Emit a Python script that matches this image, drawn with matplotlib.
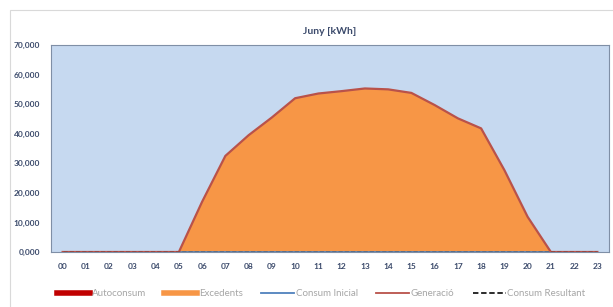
import numpy as np
import matplotlib.pyplot as plt
from matplotlib.patches import Rectangle

plt.rcParams['font.family'] = ['Lato', 'DejaVu Sans']

# Data (kWh) per hour
hours = ['00', '01', '02', '03', '04', '05', '06', '07', '08', '09', '10', '11',
         '12', '13', '14', '15', '16', '17', '18', '19', '20', '21', '22', '23']
generacio = [0, 0, 0, 0, 0, 0, 17.0, 32.5, 39.5, 45.5, 52.0, 53.6,
             54.4, 55.3, 55.0, 53.8, 49.7, 45.2, 41.8, 27.7, 11.9, 0, 0, 0]
autoconsum = [0] * 24
consum_inicial = [0] * 24
consum_resultant = [0] * 24
excedents = [g - a for g, a in zip(generacio, autoconsum)]

BG = '#C6D9F0'
ORANGE = '#F79646'
GEN_RED = '#B9524A'
AUTO_RED = '#C00000'
BLUE = '#4F81BD'
TXT = '#3B4A6B'

fig = plt.figure(figsize=(6.13, 3.07), dpi=100)
fig.patches.append(Rectangle((10 / 613, -0.01), 1.0, 1 - 10 / 307 + 0.01,
                             transform=fig.transFigure, fill=False,
                             edgecolor='#D9D9D9', linewidth=0.8))

ax = fig.add_axes([51 / 613, 55 / 307, 558 / 613, 207 / 307])
ax.set_facecolor(BG)
x = np.arange(len(hours))

ax.stackplot(x, autoconsum, excedents, colors=[AUTO_RED, ORANGE], zorder=2)
ax.plot(x, consum_inicial, color=BLUE, lw=1.2, zorder=3)
ax.plot(x, generacio, color=GEN_RED, lw=1.6, zorder=4)
ax.plot(x, consum_resultant, color='#1a1a1a', lw=1.0, ls=(0, (3, 1.5)), zorder=5)

ax.set_xlim(-0.5, 23.5)
ax.set_ylim(0, 70)
ax.set_yticks(np.arange(0, 71, 10))
ax.set_yticklabels([f"{v:.3f}".replace('.', ',') for v in range(0, 71, 10)])
ax.set_xticks(x)
ax.set_xticklabels(hours)
ax.tick_params(length=0, labelsize=6, labelcolor=TXT, pad=8)
for lbl in ax.get_xticklabels() + ax.get_yticklabels():
    lbl.set_fontweight('bold')
for s in ax.spines.values():
    s.set_color('#7F8FA6')
    s.set_linewidth(0.8)

ax.set_title('Juny [kWh]', fontsize=7.5, fontweight='bold', color=TXT, pad=8)

handles = [
    plt.Line2D([], [], color=AUTO_RED, lw=4),
    plt.Line2D([], [], color=ORANGE, lw=4),
    plt.Line2D([], [], color=BLUE, lw=1.3),
    plt.Line2D([], [], color=GEN_RED, lw=1.3),
    plt.Line2D([], [], color='#1a1a1a', lw=1.3, ls=(0, (3, 1.5))),
]
labels = ['Autoconsum', 'Excedents', 'Consum Inicial', 'Generació', 'Consum Resultant']
fig.legend(handles, labels, loc='center left', bbox_to_anchor=(57 / 613, 13 / 307), ncol=5,
           frameon=False, fontsize=7, labelcolor='#A6A6A6', handlelength=3.4,
           handletextpad=0.15, columnspacing=1.9, borderpad=0, borderaxespad=0)

fig.savefig('out.png', dpi=100, facecolor='white')
